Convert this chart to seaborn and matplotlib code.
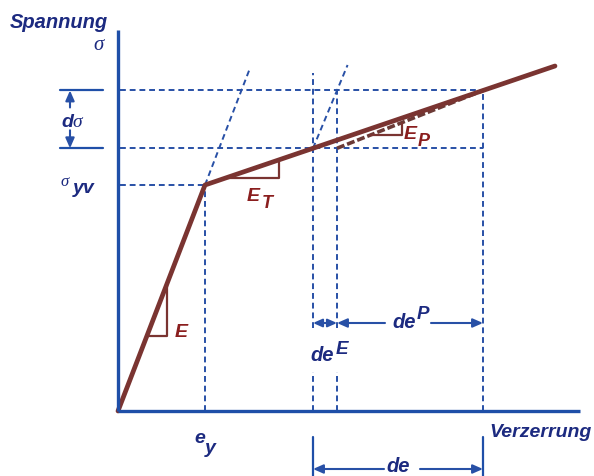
import numpy as np
import matplotlib
matplotlib.use("Agg")
import matplotlib.pyplot as plt
import seaborn as sns

# Bilinear stress-strain curve (strain, stress) in drawing units
curve_strain = [0, 87, 437]
curve_stress = [0, 226, 345]

# Strain marks: yield strain, start of increment, end of elastic part, end of increment
strain_marks = [87, 195, 219, 365]
axis_top = 381
axis_right = 462

sns.set_theme(style="white")
plt.rcParams["font.family"] = ["Liberation Sans", "DejaVu Sans"]

NAVY = "#1c2a80"
AXIS = "#1f4fa8"
DASH = "#2850a6"
BROWN = "#7a3431"
LABEL_BROWN = "#8a1e1e"

ey, e1, e1E, e2 = strain_marks
s_y = float(np.interp(ey, curve_strain, curve_stress))
s1 = float(np.interp(e1, curve_strain, curve_stress))
s2 = float(np.interp(e2, curve_strain, curve_stress))
E = s_y / ey
E_unl = (s2 - s1) / (e1E - e1)

fig = plt.figure(figsize=(5.94, 4.76), dpi=100)
ax = fig.add_axes([0, 0, 1, 1])
ax.set_xlim(-118, 476)
ax.set_ylim(-65, 411)
ax.axis("off")

def at(px, py):
    return px - 118, 411 - py

dash_kw = dict(color=DASH, lw=1.4, linestyle=(0, (3, 2)), zorder=2)

# horizontal guides
ax.plot([2, ey], [s_y, s_y], **dash_kw)
ax.plot([2, e2], [s1, s1], **dash_kw)
ax.plot([2, e2], [s2, s2], **dash_kw)

# vertical guides
ax.plot([ey, ey], [0, s_y], **dash_kw)
gap_lo, gap_hi = 39, 83
ax.plot([e1, e1], [gap_hi, 338], **dash_kw)
ax.plot([e1, e1], [0, gap_lo], **dash_kw)
ax.plot([e1E, e1E], [gap_hi, s2], **dash_kw)
ax.plot([e1E, e1E], [0, gap_lo], **dash_kw)
ax.plot([e2, e2], [0, s2], **dash_kw)

# elastic extensions
top1 = 343
ax.plot([ey, ey + (top1 - s_y) / E], [s_y, top1], **dash_kw)
top2 = 346
ax.plot([e1, e1 + (top2 - s1) / E_unl], [s1, top2], **dash_kw)

# plastic secant
ax.plot([e1E, e2], [s1, s2], color="#6b3a36", lw=2.6, linestyle=(0, (2.2, 0.8)), zorder=3)

# main curve
sns.lineplot(x=curve_strain, y=curve_stress, ax=ax, color=BROWN, lw=3.4,
             sort=False, zorder=4, solid_capstyle="round")

# axes
ax.plot([0, 0], [0, axis_top], color=AXIS, lw=2.4, zorder=5, solid_capstyle="butt")
ax.plot([0, axis_right], [0, 0], color=AXIS, lw=2.4, zorder=5, solid_capstyle="butt")

# slope triangles
tri_kw = dict(color=BROWN, lw=1.6, zorder=3)
a, b = 29, 49
ax.plot([a, b, b], [E * a, E * a, E * b], **tri_kw)
a, b = 109, 161
ya = float(np.interp(a, curve_strain, curve_stress))
yb = float(np.interp(b, curve_strain, curve_stress))
ax.plot([a, b, b], [ya, ya, yb], **tri_kw)
Ep = (s2 - s1) / (e2 - e1E)
a, b = 252, 284
ya = s1 + Ep * (a - e1E)
yb = s1 + Ep * (b - e1E)
ax.plot([a, b, b], [ya, ya, yb], **tri_kw)

# increment markers
arrow_kw = dict(arrowstyle="-|>,head_length=0.5,head_width=0.22", color=DASH, lw=1.5,
                shrinkA=0, shrinkB=0)
ax.plot([-58, -15], [s2, s2], color=AXIS, lw=1.6)
ax.plot([-58, -15], [s1, s1], color=AXIS, lw=1.6)
ax.annotate("", xy=(-48, s2), xytext=(-48, s2 - 17), arrowprops=arrow_kw)
ax.annotate("", xy=(-48, s1), xytext=(-48, s1 + 18), arrowprops=arrow_kw)

yP = 88
ax.annotate("", xy=(e1, yP), xytext=(e1E, yP),
            arrowprops=dict(arrowstyle="<|-|>,head_length=0.45,head_width=0.2",
                            color=DASH, lw=1.5, shrinkA=0, shrinkB=0))
ax.annotate("", xy=(e1E, yP), xytext=(267, yP), arrowprops=arrow_kw)
ax.annotate("", xy=(e2, yP), xytext=(313, yP), arrowprops=arrow_kw)

ax.plot([e1, e1], [-26, -65], color=AXIS, lw=1.6)
ax.plot([e2, e2], [-26, -65], color=AXIS, lw=1.6)
yd = -58
ax.annotate("", xy=(e1, yd), xytext=(266, yd), arrowprops=arrow_kw)
ax.annotate("", xy=(e2, yd), xytext=(302, yd), arrowprops=arrow_kw)

# text
bi = dict(fontweight="bold", fontstyle="italic", color=NAVY)
serif = dict(family=["Liberation Serif", "DejaVu Serif"], fontstyle="italic", color=NAVY)

ax.text(*at(10, 28), "Spannung", fontsize=14.5, ha="left", va="baseline", **bi)
ax.text(*at(99, 50), "σ", fontsize=15, ha="center", va="baseline", **serif)
ax.text(*at(489, 437), "Verzerrung", fontsize=14, ha="left", va="baseline", **bi)

ax.text(*at(61, 186), "σ", fontsize=12, ha="left", va="baseline", **serif)
ax.text(*at(73, 193), "yv", fontsize=14, ha="left", va="baseline", **bi)

ax.text(*at(61, 127), "d", fontsize=14, ha="left", va="baseline", **bi)
ax.text(*at(72, 127), "σ", fontsize=14, ha="left", va="baseline", **serif)

ax.text(*at(194, 443), "e", fontsize=14, ha="left", va="baseline", **bi)
ax.text(*at(205, 453), "y", fontsize=14, ha="left", va="baseline", **bi)

lb = dict(fontweight="bold", fontstyle="italic", color=LABEL_BROWN)
ax.text(*at(175, 337), "E", fontsize=14, ha="left", va="baseline", **lb)
ax.text(*at(247, 201), "E", fontsize=14, ha="left", va="baseline", **lb)
ax.text(*at(262, 208), "T", fontsize=13, ha="left", va="baseline", **lb)
ax.text(*at(404, 139), "E", fontsize=14, ha="left", va="baseline", **lb)
ax.text(*at(418, 146), "P", fontsize=13, ha="left", va="baseline", **lb)

ax.text(*at(392, 328), "de", fontsize=14.5, ha="left", va="baseline", **bi)
ax.text(*at(417, 319), "P", fontsize=13.5, ha="left", va="baseline", **bi)
ax.text(*at(310, 361), "de", fontsize=14.5, ha="left", va="baseline", **bi)
ax.text(*at(336, 354), "E", fontsize=13.5, ha="left", va="baseline", **bi)
ax.text(*at(386, 472), "de", fontsize=14.5, ha="left", va="baseline", **bi)

fig.savefig("out.png", dpi=100)
